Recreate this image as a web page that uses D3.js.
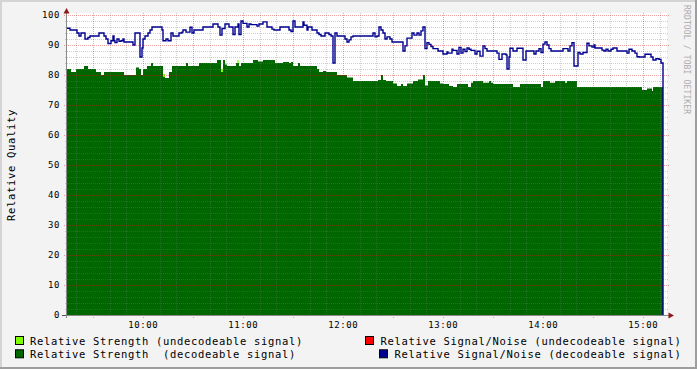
<!DOCTYPE html>
<html><head><meta charset="utf-8">
<script src="https://cdn.jsdelivr.net/npm/d3@7/dist/d3.min.js"></script>
<style>
html,body{margin:0;padding:0;background:#F3F3F3;}
svg{display:block;}
text{font-family:"DejaVu Sans Mono",monospace;}
</style></head><body>
<svg id="chart" width="697" height="369"></svg>
<script>
// ---- data (time in minutes after 09:00) ----
const timeDomain = [14.4, 374.4];
const yTicks = [0,10,20,30,40,50,60,70,80,90,100];
const xTickLabels = ["10:00","11:00","12:00","13:00","14:00","15:00"];
const yTitle = "Relative Quality";
const watermark = "RRDTOOL / TOBI OETIKER";
const legendLeft = ["Relative Strength (undecodeable signal)", "Relative Strength  (decodeable signal)"];
const legendRight = ["Relative Signal/Noise (undecodeable signal)", "Relative Signal/Noise (decodeable signal)"];
const colors = {strengthUndec:"#80FF00", strengthDec:"#006600", snUndec:"#FF0000", snDec:"#000090"};

const strengthUndecodeable = [[14.4,0],[72.0,80.3],[73.2,0],[106.8,82],[108.0,0],[116.6,85],[117.4,0],[372.0,0]];

const strengthDecodeable = [[14.4,82],[16.8,81],[19.8,82],[24.6,83],[27.0,82],[31.8,81],[34.8,80],[36.6,81],[48.6,80],
[55.8,82.5],[57.6,82],[58.8,80],[60.0,82],[62.4,83],[64.8,84],[66.0,83],[72.0,79.3],[73.2,79],[75.6,81],[77.4,83],
[85.8,84],[87.0,83],[93.6,84],[104.4,85],[106.8,81],[108.0,85],[109.2,83.5],[110.4,83],[115.8,84],[117.6,83],
[118.8,84],[126.0,85],[129.0,84.5],[132.0,85],[139.2,84],[144.0,84.3],[147.6,84],[148.8,84.3],[150.0,83],[153.0,84],
[154.2,83],[164.4,82],[165.6,81],[168.0,81.3],[169.8,81],[176.4,80],[182.4,79.2],[186.0,78],[201.0,78.3],[202.8,80],
[204.0,78.3],[205.8,78],[210.0,77.2],[212.4,76.3],[214.8,77],[216.0,76.3],[218.4,77.2],[222.0,78],[225.0,78.5],
[228.0,80],[229.2,76.5],[231.0,78],[238.2,77.2],[240.0,77],[243.6,76.3],[246.0,76],[248.4,77],[255.0,76],[256.8,77.4],
[258.0,78],[264.0,77.4],[267.6,78],[268.8,77.4],[270.0,77],[282.0,76],[286.2,77],[298.8,76],[300.0,78],[304.2,77.4],
[307.2,78],[313.2,77.4],[314.4,78],[320.4,76],[359.4,75],[362.4,75.5],[365.4,74.7],[366.0,76],[372.0,76]];

const snUndecodeable = [];

const snDecodeable = [[14.4,95.6],[16.2,95],[20.4,94],[21.6,93],[22.8,94],[25.2,92],[27.0,92.5],[28.2,93],[33.6,94],
[36.6,93],[37.8,92],[39.0,90.5],[40.8,91.4],[42.0,93],[42.6,91.4],[43.2,90.8],[44.4,92],[45.6,91.2],[46.8,91.4],
[48.0,92],[48.6,91],[54.0,90],[55.2,94],[58.2,86],[59.4,89],[60.0,92],[61.2,93],[63.0,94],[64.2,95],[65.4,96],
[71.4,95],[72.0,91.4],[73.8,92],[75.0,91.4],[76.8,94],[78.0,93],[81.6,94],[83.4,94.3],[84.0,95],[85.8,94.3],
[88.2,95.9],[89.4,94],[90.6,95],[96.0,96],[102.0,97],[105.0,96],[106.2,93.3],[107.4,95.5],[109.2,97],[111.6,96],
[114.0,93.5],[115.2,96],[117.0,97],[117.6,93.5],[118.8,98],[120.0,97.2],[122.4,96],[123.6,97],[124.8,96.8],
[128.4,96.3],[129.6,97],[132.0,97.7],[134.4,96],[137.4,95.3],[138.6,95],[142.2,96],[147.6,95],[148.8,94.5],
[150.0,98],[151.2,96],[156.0,97.7],[156.6,96.6],[158.4,95],[159.0,96],[161.4,95],[164.4,94],[165.6,93.5],
[166.8,93],[169.2,94],[171.6,93.5],[172.8,93],[174.0,84],[175.2,94],[176.4,93],[181.2,92],[182.4,91],[183.6,91.7],
[184.8,92.7],[186.0,93],[198.0,94],[199.2,92.7],[200.4,93],[201.6,96],[202.8,95],[204.0,94],[205.2,92],[206.4,92.7],
[208.2,92],[209.4,91],[216.0,88],[217.2,89.7],[218.4,92.3],[221.4,94],[222.6,93.3],[224.4,94],[225.6,93.3],
[226.8,94.7],[228.0,96],[229.2,88.8],[230.4,90.8],[231.6,90.2],[232.8,89.5],[234.0,88.8],[237.0,88],[240.0,87],
[242.4,87.7],[243.0,87.3],[245.4,88.6],[246.0,88.2],[248.4,87],[249.6,89.2],[250.8,87.3],[252.0,88.6],[253.2,87.8],
[254.4,89],[255.6,88.6],[256.8,88.2],[259.2,87],[260.4,87.9],[262.2,86.3],[264.0,89.7],[265.2,88.8],[266.4,88],
[272.4,87.3],[273.6,85.2],[275.4,87],[277.8,86.7],[278.4,82],[279.6,86],[280.2,88.9],[282.0,88],[284.4,88.9],
[288.0,85],[289.8,88],[294.6,87],[295.8,88],[297.6,88.8],[298.8,87.5],[300.0,90.3],[301.2,91],[302.4,90],
[303.6,88.8],[304.8,88],[312.0,88.8],[315.0,88],[316.2,89.7],[317.4,90.8],[318.6,83],[321.0,87.5],[322.2,87],
[324.0,87.5],[326.4,90.6],[327.6,89.7],[329.4,89.3],[330.6,90],[331.2,89],[335.4,88.3],[336.6,88],[337.8,88.6],
[339.0,88],[340.8,88.6],[342.0,89],[344.4,88],[350.4,87.3],[351.6,88.6],[353.4,88],[355.2,87.3],[356.4,86.1],
[357.6,86],[361.2,86.9],[364.8,86],[366.0,85],[367.8,85.4],[369.6,85.2],[370.8,84],[372.0,0]];

// ---- drawing ----
const W = 697, H = 369;
const P = {left:67, right:667, top:15, bottom:315};
const x = d3.scaleLinear().domain(timeDomain).range([P.left, P.right]);
const y = d3.scaleLinear().domain([0,100]).range([P.bottom, P.top]);
const svg = d3.select("#chart");

svg.append("rect").attr("width",W).attr("height",H).attr("fill","#F3F3F3");
// 3D frame
svg.append("rect").attr("x",0).attr("y",0).attr("width",W).attr("height",2).attr("fill","#D4D4D4");
svg.append("rect").attr("x",0).attr("y",0).attr("width",2).attr("height",H).attr("fill","#D4D4D4");
svg.append("rect").attr("x",0).attr("y",H-2).attr("width",W).attr("height",2).attr("fill","#9E9E9E");
svg.append("rect").attr("x",W-2).attr("y",0).attr("width",2).attr("height",H).attr("fill","#9E9E9E");

// canvas
svg.append("rect").attr("x",P.left).attr("y",P.top-2).attr("width",P.right-P.left).attr("height",P.bottom-P.top+2).attr("fill","#FFFFFF");

// data areas
const area = d3.area().curve(d3.curveStepAfter)
  .x(d=>x(d[0])).y0(y(0)).y1(d=>y(d[1]));
svg.append("path").datum(strengthUndecodeable).attr("d",area).attr("fill",colors.strengthUndec);
svg.append("path").datum(strengthDecodeable).attr("d",area).attr("fill",colors.strengthDec);

// grid (drawn over data like rrdtool)
const g = svg.append("g").attr("shape-rendering","crispEdges");
const minorX = d3.range(20, timeDomain[1], 10).filter(t=>t>timeDomain[0] && t%30!==0);
const majorX = d3.range(30, timeDomain[1], 30);
const minorY = d3.range(0, 101, 2).filter(v=>v%10!==0);
const majorY = yTicks;
const minorCol = "rgba(120,120,120,0.35)", majorCol = "rgba(210,20,20,0.4)";
g.selectAll(".mx").data(minorX).join("line")
  .attr("x1",d=>Math.round(x(d))+0.5).attr("x2",d=>Math.round(x(d))+0.5)
  .attr("y1",P.top-2).attr("y2",P.bottom+2)
  .attr("stroke",minorCol).attr("stroke-dasharray","1,1");
g.selectAll(".my").data(minorY).join("line")
  .attr("y1",d=>Math.round(y(d))+0.5).attr("y2",d=>Math.round(y(d))+0.5)
  .attr("x1",P.left-2).attr("x2",P.right+2)
  .attr("stroke",minorCol).attr("stroke-dasharray","1,1");
g.selectAll(".Mx").data(majorX).join("line")
  .attr("x1",d=>Math.round(x(d))+0.5).attr("x2",d=>Math.round(x(d))+0.5)
  .attr("y1",P.top-2).attr("y2",P.bottom+3)
  .attr("stroke",majorCol).attr("stroke-dasharray","1,1");
g.selectAll(".My").data(majorY.filter(v=>v>0)).join("line")
  .attr("y1",d=>Math.round(y(d))+0.5).attr("y2",d=>Math.round(y(d))+0.5)
  .attr("x1",P.left-3).attr("x2",P.right+3)
  .attr("stroke",majorCol).attr("stroke-dasharray","1,1");

// S/N line
const line = d3.line().curve(d3.curveStepAfter).x(d=>x(d[0])).y(d=>y(d[1]));
svg.append("path").datum(snDecodeable).attr("d",line).attr("fill","none")
  .attr("stroke",colors.snDec).attr("stroke-width",1.4);

// axes
svg.append("line").attr("x1",P.left-0.5).attr("x2",P.left-0.5).attr("y1",P.bottom+3).attr("y2",P.top-4)
  .attr("stroke","#8A8A8A").attr("stroke-width",1);
svg.append("line").attr("x1",P.left-4).attr("x2",P.right+3).attr("y1",P.bottom+0.5).attr("y2",P.bottom+0.5)
  .attr("stroke","#8A8A8A").attr("stroke-width",1);
svg.append("line").attr("x1",P.left-5).attr("x2",P.left-1).attr("y1",P.bottom+0.5).attr("y2",P.bottom+0.5)
  .attr("stroke","#555");
// arrows
svg.append("path").attr("d",`M${P.left-0.5},${P.top-7} L${P.left-3.5},${P.top-1.5} L${P.left+2.5},${P.top-1.5} Z`).attr("fill","#8B1A1A");
svg.append("path").attr("d",`M${P.right+7},${P.bottom+0.5} L${P.right+1.5},${P.bottom-2.5} L${P.right+1.5},${P.bottom+3.5} Z`).attr("fill","#8B1A1A");

// tick labels
svg.selectAll(".yl").data(yTicks).join("text")
  .attr("x",60).attr("y",d=>y(d)+3.3).attr("text-anchor","end")
  .attr("font-size","9px").attr("letter-spacing","0.6px").attr("fill","#000").text(d=>d);
const xTickVals = xTickLabels.map(s=>{const [h,m]=s.split(":").map(Number);return (h-9)*60+m;});
svg.selectAll(".xl").data(xTickLabels).join("text")
  .attr("x",(d,i)=>x(xTickVals[i])+0.3).attr("y",327.7).attr("text-anchor","middle")
  .attr("font-size","9px").attr("letter-spacing","0.6px").attr("fill","#000").text(d=>d);

// y title
svg.append("text").attr("transform","translate(15.3,165) rotate(-90)").attr("text-anchor","middle")
  .attr("font-size","10.5px").attr("letter-spacing","0.68px").attr("fill","#000").text(yTitle);

// watermark
svg.append("text").attr("transform","translate(683.5,5) rotate(90)")
  .attr("font-size","8px").attr("letter-spacing","0.15px").attr("fill","#ABABAB").text(watermark);

// legend
const lf = {"font-size":"10.5px","letter-spacing":"0.68px"};
const leftCols = [colors.strengthUndec, colors.strengthDec];
legendLeft.forEach((t,i)=>{
  const by = 345 + i*13.3;
  svg.append("rect").attr("x",15.5).attr("y",by-8.5).attr("width",8).attr("height",8)
    .attr("fill",leftCols[i]).attr("stroke","#000").attr("stroke-width",1);
  svg.append("text").attr("x",30).attr("y",by).attr("font-size",lf["font-size"])
    .attr("letter-spacing",lf["letter-spacing"]).attr("xml:space","preserve").style("white-space","pre")
    .attr("fill","#000").text(t);
});
const rightCols = [colors.snUndec, colors.snDec];
legendRight.forEach((t,i)=>{
  const by = 345 + i*13.3;
  const tx = svg.append("text").attr("x",681.5).attr("y",by).attr("text-anchor","end")
    .attr("font-size",lf["font-size"]).attr("letter-spacing",lf["letter-spacing"])
    .style("white-space","pre").attr("fill","#000").text(t);
  const bb = tx.node().getBBox();
  svg.append("rect").attr("x",Math.round(bb.x)-14.5).attr("y",by-8.5).attr("width",8).attr("height",8)
    .attr("fill",rightCols[i]).attr("stroke","#000").attr("stroke-width",1);
});
</script>
</body></html>
